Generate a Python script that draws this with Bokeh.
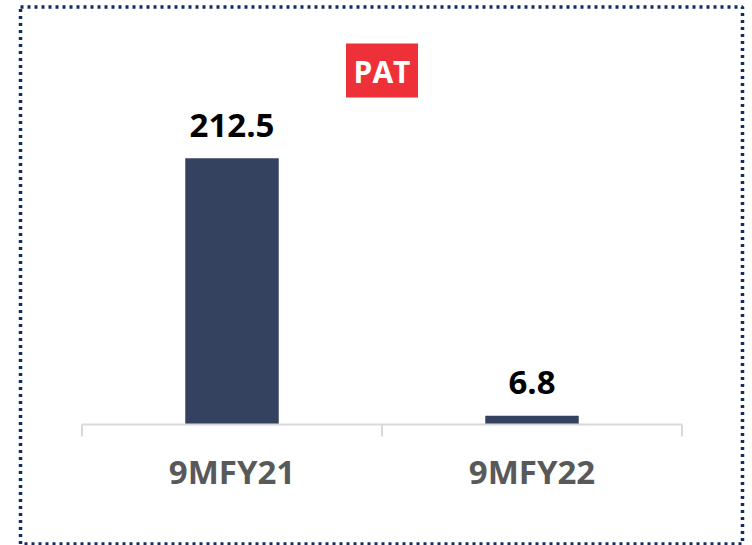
from bokeh.plotting import figure
from bokeh.models import Range1d, ColumnDataSource
from bokeh.core.properties import value
from bokeh.embed import file_html
from bokeh.resources import INLINE

# ---- data ----
categories = ["9MFY21", "9MFY22"]
pat_values = [212.5, 6.8]
value_labels = ["212.5", "6.8"]
title_text = "PAT"

# ---- styling ----
BAR_COLOR = "#34425F"
RED = "#EE3138"
BORDER = "#132C63"
AXIS_GREY = "#D9D9D9"
LABEL_GREY = "#595959"
FONT = "Open Sans"

W, H = 752, 545

PX_PER_CAT = 300.0
PX_PER_UNIT = 1.2518
X0_PX = 231.5     # x pixel of first category centre
Y0_PX = 424.0     # y pixel of baseline

def px_x(px):
    return (px - X0_PX) / PX_PER_CAT

def px_y(py):
    return (Y0_PX - py) / PX_PER_UNIT

p = figure(width=W, height=H, output_backend="svg", toolbar_location=None,
           x_range=Range1d(px_x(0), px_x(W)), y_range=Range1d(px_y(H), px_y(0)),
           min_border=0)
p.axis.visible = False
p.grid.visible = False
p.background_fill_color = "white"
p.border_fill_color = "white"
p.outline_line_color = None

# dotted border
bl, br, bt, bb = 20, 742, 6.5, 543.5
p.rect(x=[px_x((bl + br) / 2)], y=[px_y((bt + bb) / 2)], width=br - bl, height=bb - bt,
       width_units="screen", height_units="screen",
       fill_color=None, line_color=BORDER, line_width=3.5, line_dash="3 4")

idx = list(range(len(categories)))
src = ColumnDataSource(dict(x=idx, top=pat_values, cat=categories, lab=value_labels))

p.vbar(x="x", top="top", bottom=0, width=0.31, source=src,
       fill_color=BAR_COLOR, line_color=BAR_COLOR, line_width=0.5)

# category axis line with boundary ticks
n = len(categories)
bounds = [i - 0.5 for i in range(n + 1)]
p.segment(x0=[bounds[0]], x1=[bounds[-1]], y0=[0], y1=[0], line_color=AXIS_GREY, line_width=2)
tick_len = 12 / PX_PER_UNIT
p.segment(x0=bounds, x1=bounds, y0=[0] * len(bounds), y1=[-tick_len] * len(bounds),
          line_color=AXIS_GREY, line_width=2)

# category labels
p.text(x="x", y=0, text="cat", source=src, y_offset=47,
       text_align="center", text_baseline="alphabetic",
       text_font=value(FONT), text_font_style="bold", text_font_size="33px",
       text_color=LABEL_GREY)

# value labels
p.text(x="x", y="top", text="lab", source=src, y_offset=-33,
       text_align="center", text_baseline="alphabetic",
       text_font=value(FONT), text_font_style="bold", text_font_size="33px",
       text_color="black")

# PAT title box
title_x = (idx[0] + idx[-1]) / 2
title_y = px_y(70)
p.rect(x=[title_x], y=[title_y], width=72, height=54, width_units="screen", height_units="screen",
       fill_color=RED, line_color=None)
p.text(x=[title_x], y=[title_y], text=[title_text], y_offset=1,
       text_align="center", text_baseline="middle",
       text_font=value(FONT), text_font_style="bold", text_font_size="30px",
       text_color="white")

open("out.html", "w").write(file_html(p, INLINE))
